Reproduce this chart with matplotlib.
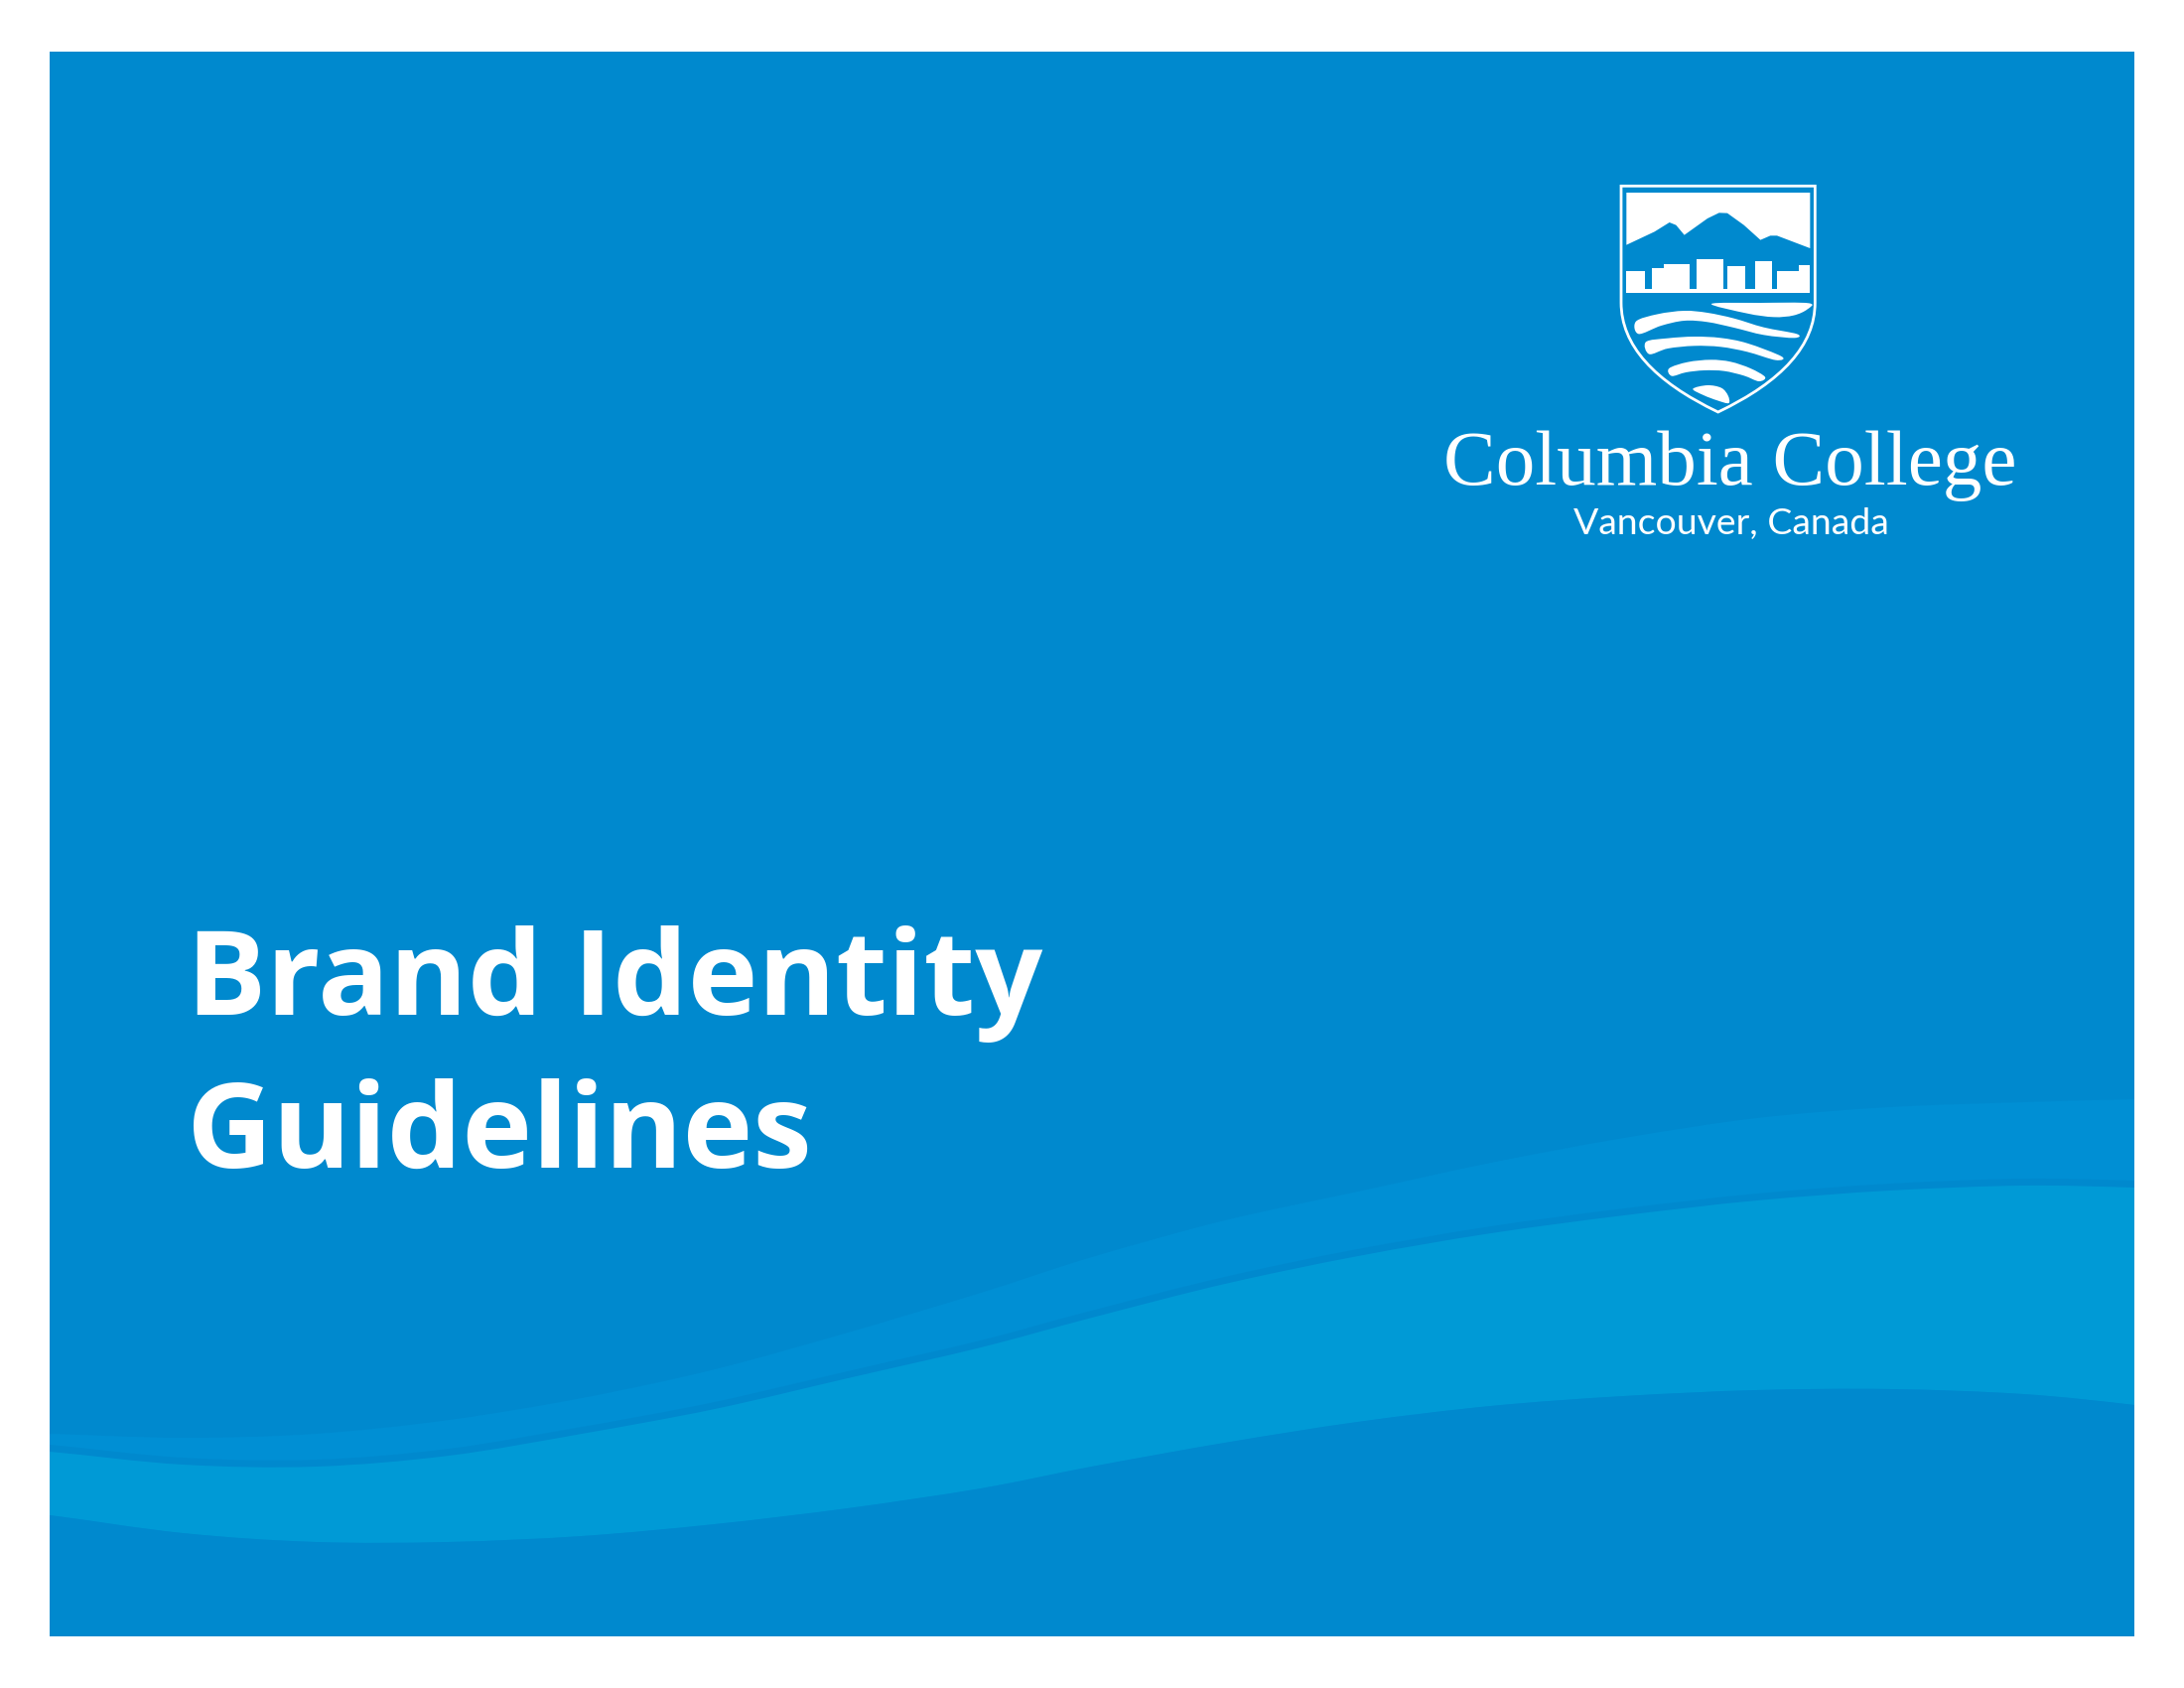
import matplotlib
matplotlib.use("Agg")
import matplotlib.pyplot as plt
from matplotlib.path import Path
from matplotlib.patches import PathPatch, Rectangle, Polygon
from matplotlib.transforms import Affine2D
import numpy as np

# ---------------- page / colours ----------------
W, H = 2200, 1700
PAGE_BG = "#FFFFFF"
BASE_BLUE = "#0089CE"
SOFT_BLUE = "#008FD4"
BAND_BLUE = "#009AD6"
SHADOW_BLUE = "#0080C4"
WHITE = "#FFFFFF"

panel_box = [50, 52, 2150, 1648]  # x0, y0, x1, y1 (page px, y down)

# ---------------- texts ----------------
title_lines = ["Brand Identity", "Guidelines"]
wordmark = "Columbia College"
location = "Vancouver, Canada"

# ---------------- background wave edges (page px) ----------------
wave_x = [-50, 50, 184, 318, 452, 586, 720, 854, 988, 1100, 1234, 1368,
          1502, 1636, 1770, 1904, 2038, 2150, 2250]
soft_top_y = [1442, 1444, 1448, 1444, 1430, 1408, 1379, 1342, 1302, 1266,
              1229, 1200, 1171, 1146, 1126, 1115, 1110, 1107, 1105]
band_top_y = [1455, 1462, 1475, 1477, 1466, 1444, 1419, 1388, 1357, 1327,
              1293, 1265, 1242, 1224, 1209, 1199, 1194, 1196, 1200]
band_bot_y = [1515, 1526, 1544, 1553, 1553, 1547, 1535, 1519, 1499, 1477,
              1453, 1432, 1416, 1406, 1400, 1399, 1404, 1415, 1428]

# ---------------- crest geometry (local crest units, 3 per page px) ----------------
shield_top, shield_left, shield_right, shield_shoulder = 22, 39, 625, 375
shield_tip = (332, 705)
shield_ctrl_y = 565

sky_panel = [(55, 42), (610, 42), (610, 210), (510, 172), (490, 172),
             (460, 185), (410, 140), (360, 104), (335, 103), (300, 120),
             (230, 170), (205, 140), (185, 132), (140, 160), (55, 200)]
buildings_x0 = [55, 133, 168, 268, 360, 443, 510, 575]
buildings_x1 = [110, 168, 245, 348, 415, 495, 575, 610]
buildings_top = [280, 270, 258, 243, 265, 248, 278, 262]
skyline_base = (55, 610, 333, 346)

crest_waves = [
    [(312, 378), (460, 375), (606, 376), (601, 395), (560, 413), (500, 418),
     (420, 407)],
    [(84, 431), (150, 409), (230, 399), (300, 405), (380, 422), (470, 449),
     (570, 469), (562, 481), (470, 472), (380, 450), (300, 433), (230, 429),
     (160, 444), (92, 469)],
    [(114, 493), (180, 482), (260, 477), (340, 481), (420, 497), (524, 537),
     (506, 548), (420, 523), (340, 508), (260, 505), (180, 513), (124, 530)],
    [(184, 573), (240, 554), (310, 547), (370, 553), (430, 573), (474, 599),
     (455, 612), (410, 595), (350, 581), (290, 579), (235, 585), (192, 596)],
    [(256, 635), (300, 624), (342, 632), (362, 655), (364, 678), (330, 670),
     (288, 654)],
]


# ---------------- helpers ----------------
def catmull(xs, ys):
    """Catmull-Rom through the points, as cubic Bezier path pieces."""
    p = np.column_stack([xs, ys]).astype(float)
    ext = np.vstack([p[0], p, p[-1]])
    verts = [p[0]]
    codes = [Path.MOVETO]
    for i in range(1, len(ext) - 2):
        p0, p1, p2, p3 = ext[i - 1], ext[i], ext[i + 1], ext[i + 2]
        verts += [p1 + (p2 - p0) / 6, p2 - (p3 - p1) / 6, p2]
        codes += [Path.CURVE4] * 3
    return verts, codes


def smooth_closed(pts):
    p = np.asarray(pts, float)
    n = len(p)
    verts = [p[0]]
    codes = [Path.MOVETO]
    for i in range(n):
        p0, p1, p2, p3 = p[i - 1], p[i], p[(i + 1) % n], p[(i + 2) % n]
        verts += [p1 + (p2 - p0) / 6, p2 - (p3 - p1) / 6, p2]
        codes += [Path.CURVE4] * 3
    verts.append(p[0])
    codes.append(Path.CLOSEPOLY)
    return Path(verts, codes)


def band_path(tx, ty, bx, by):
    v1, c1 = catmull(tx, ty)
    v2, c2 = catmull(bx[::-1], by[::-1])
    c2 = list(c2)
    c2[0] = Path.LINETO
    verts = v1 + v2 + [v1[0]]
    codes = c1 + c2 + [Path.CLOSEPOLY]
    return Path(verts, codes)


# ---------------- figure ----------------
fig = plt.figure(figsize=(22, 17), dpi=100, facecolor=PAGE_BG)
ax = fig.add_axes([0, 0, 1, 1])
ax.set_xlim(0, W)
ax.set_ylim(H, 0)
ax.axis("off")

x0, y0, x1, y1 = panel_box
panel = Rectangle((x0, y0), x1 - x0, y1 - y0, facecolor=BASE_BLUE,
                  edgecolor="none", zorder=1)
ax.add_patch(panel)

edge_x = [wave_x[0], wave_x[-1]]
bottom = [y1 + 40] * 2

p_soft = band_path(wave_x, soft_top_y, edge_x, bottom)
pp = PathPatch(p_soft, facecolor=SOFT_BLUE, edgecolor="none", zorder=2)
ax.add_patch(pp)
pp.set_clip_path(panel)

v, c = catmull(wave_x, band_top_y)
shadow = PathPatch(Path(v, c), facecolor="none", edgecolor=SHADOW_BLUE,
                   lw=10, alpha=0.35, zorder=3, capstyle="butt")
ax.add_patch(shadow)
shadow.set_clip_path(panel)

p_band = band_path(wave_x, band_top_y, wave_x, band_bot_y)
pb = PathPatch(p_band, facecolor=BAND_BLUE, edgecolor="none", zorder=4)
ax.add_patch(pb)
pb.set_clip_path(panel)

p_low = band_path(wave_x, band_bot_y, edge_x, bottom)
pl = PathPatch(p_low, facecolor=BASE_BLUE, edgecolor="none", zorder=4)
ax.add_patch(pl)
pl.set_clip_path(panel)

# ---------------- crest ----------------
tr = Affine2D().scale(1 / 3, 1 / 3).translate(1620, 180) + ax.transData

ov = [(shield_left, shield_top), (shield_right, shield_top),
      (shield_right, shield_shoulder), (shield_right, shield_ctrl_y), shield_tip,
      (shield_left, shield_ctrl_y), (shield_left, shield_shoulder),
      (shield_left, shield_top)]
oc = [Path.MOVETO, Path.LINETO, Path.LINETO, Path.CURVE3, Path.CURVE3,
      Path.CURVE3, Path.CURVE3, Path.CLOSEPOLY]
ax.add_patch(PathPatch(Path(ov, oc), facecolor="none", edgecolor=WHITE,
                       lw=2.0, transform=tr, zorder=10, joinstyle="miter"))

ax.add_patch(Polygon(sky_panel, closed=True, facecolor=WHITE, edgecolor="none",
                     transform=tr, zorder=10))
for bx0, bx1, bt in zip(buildings_x0, buildings_x1, buildings_top):
    ax.add_patch(Rectangle((bx0, bt), bx1 - bx0, skyline_base[3] - bt,
                           facecolor=WHITE, edgecolor="none", transform=tr,
                           zorder=10))
ax.add_patch(Rectangle((skyline_base[0], skyline_base[2]),
                       skyline_base[1] - skyline_base[0],
                       skyline_base[3] - skyline_base[2],
                       facecolor=WHITE, edgecolor="none", transform=tr, zorder=10))
for wpts in crest_waves:
    ax.add_patch(PathPatch(smooth_closed(wpts), facecolor=WHITE,
                           edgecolor="none", transform=tr, zorder=10))

# ---------------- texts ----------------
t1 = ax.text(188, 1022, title_lines[0], color=WHITE, fontsize=90,
             fontfamily="Open Sans", fontweight="bold", ha="left", va="baseline",
             zorder=20)
t2 = ax.text(188, 1176, title_lines[1], color=WHITE, fontsize=90,
             fontfamily="Open Sans", fontweight="bold", ha="left", va="baseline",
             zorder=20)
t3 = ax.text(1743, 488, wordmark, color=WHITE, fontsize=52,
             fontfamily="Liberation Serif", ha="center", va="baseline",
             zorder=20)
t4 = ax.text(1744, 538, location, color=WHITE, fontsize=26,
             fontfamily="Lato", ha="center", va="baseline", zorder=20)

fig.canvas.draw()
r = fig.canvas.get_renderer()


def fit(t, target):
    w = t.get_window_extent(r).width
    t.set_fontsize(t.get_fontsize() * target / w)


fit(t1, 862)
t2.set_fontsize(t1.get_fontsize())
fit(t3, 578)
fit(t4, 318)

fig.savefig("out.png", dpi=100, facecolor=PAGE_BG)
